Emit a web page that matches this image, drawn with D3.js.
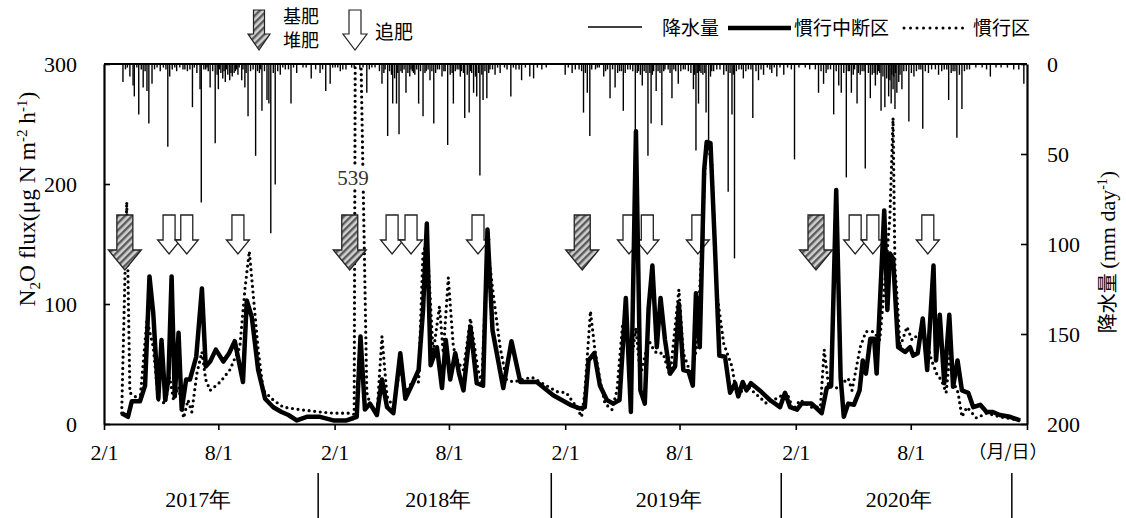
<!DOCTYPE html>
<html>
<head>
<meta charset="utf-8">
<script src="https://cdn.jsdelivr.net/npm/d3@7"></script>
<style>
  body { margin: 0; background: #fff; }
  svg { display: block; }
</style>
</head>
<body>
<div id="chart"></div>
<script>
// all x values are days counted from 2017-02-01
const rain2017 = [[30,10],[34,3],[37,2],[41,7],[46,12],[48,18],[52,2],[55,28],[59,3],[62,13],[65,4],[68,15],[71,33],[76,11],[80,3],[84,2],[89,4],[94,2],[98,3],[101,46],[104,7],[108,3],[112,2],[115,4],[120,2],[125,3],[128,3],[132,4],[136,3],[140,24],[143,2],[147,5],[152,14],[154,77],[158,3],[161,3],[163,2],[165,4],[168,13],[172,4],[176,44],[179,6],[181,14],[183,3],[185,5],[188,8],[190,4],[192,10],[194,3],[196,6],[199,9],[201,5],[203,7],[206,5],[208,4],[210,3],[212,6],[214,2],[218,9],[220,3],[223,13],[225,5],[228,29],[232,4],[236,3],[240,51],[243,4],[246,5],[248,3],[250,26],[254,4],[258,20],[261,22],[264,94],[268,5],[271,67],[275,4],[279,6],[283,2],[287,3],[292,3],[296,22],[300,2],[305,5],[315,2],[320,2],[328,8],[335,3],[342,5],[346,3],[351,15],[358,11],[362,2]];
const rain2018 = [[366,2],[370,2],[374,4],[378,3],[383,3],[392,2],[396,2],[405,3],[410,2],[416,16],[420,3],[424,2],[429,2],[436,4],[440,11],[443,5],[445,3],[449,40],[452,4],[455,6],[457,22],[460,8],[463,22],[465,5],[467,39],[470,4],[472,5],[475,3],[478,16],[481,5],[484,7],[486,3],[488,4],[490,5],[492,6],[495,3],[498,22],[501,4],[505,29],[508,5],[510,4],[513,3],[516,9],[519,4],[522,33],[525,5],[528,3],[531,3],[535,7],[538,4],[540,4],[544,45],[548,6],[551,5],[553,22],[556,4],[559,3],[562,3],[564,7],[566,4],[569,5],[571,30],[575,6],[578,27],[580,4],[582,5],[585,16],[588,7],[590,18],[593,5],[595,62],[598,6],[600,20],[603,4],[606,19],[609,5],[611,3],[615,3],[619,6],[623,2],[627,5],[634,2],[638,3],[644,18],[648,2],[652,3],[657,3],[661,9],[667,2],[674,7],[680,8],[686,2],[693,3],[700,2]];
const rain2019 = [[730,6],[735,2],[741,5],[746,3],[752,3],[756,4],[759,27],[762,5],[765,16],[769,40],[772,3],[778,3],[781,2],[784,2],[791,7],[794,4],[797,3],[801,19],[805,3],[809,13],[813,5],[816,4],[819,4],[822,26],[825,5],[829,3],[833,3],[837,4],[841,40],[844,5],[846,4],[849,6],[852,12],[855,4],[858,5],[861,51],[864,5],[866,33],[868,6],[870,4],[874,15],[877,4],[880,5],[883,34],[886,4],[888,3],[893,3],[896,5],[899,19],[902,3],[905,4],[909,11],[913,4],[917,3],[920,3],[925,4],[929,5],[933,14],[935,6],[937,48],[939,5],[941,22],[943,4],[945,5],[948,6],[951,5],[953,27],[957,43],[960,7],[962,4],[965,4],[970,3],[975,3],[981,6],[985,4],[988,71],[991,5],[994,28],[996,6],[998,108],[1001,4],[1005,3],[1009,3],[1012,8],[1016,4],[1020,3],[1024,3],[1027,30],[1032,4],[1036,9],[1040,3],[1044,6],[1050,2],[1054,3],[1057,5],[1061,2],[1065,7],[1070,2],[1076,6],[1082,2],[1088,3],[1093,53]];
const rain2020 = [[1100,2],[1110,2],[1117,3],[1126,3],[1131,16],[1135,4],[1139,11],[1143,5],[1146,3],[1150,3],[1155,28],[1159,4],[1163,12],[1167,16],[1171,5],[1175,63],[1178,4],[1180,4],[1183,16],[1186,6],[1188,3],[1192,22],[1194,5],[1197,6],[1200,4],[1203,4],[1205,58],[1210,5],[1213,19],[1216,6],[1219,5],[1221,12],[1224,6],[1226,4],[1228,5],[1230,26],[1233,7],[1236,24],[1239,8],[1242,18],[1244,9],[1246,22],[1247,6],[1249,14],[1250,7],[1252,25],[1253,5],[1255,16],[1258,10],[1260,6],[1263,14],[1266,4],[1270,4],[1274,32],[1278,5],[1282,7],[1286,4],[1290,3],[1293,3],[1296,36],[1300,4],[1305,5],[1310,3],[1316,3],[1321,6],[1326,4],[1330,3],[1334,3],[1337,20],[1341,5],[1344,4],[1347,4],[1350,41],[1354,6],[1358,25],[1362,4],[1366,3],[1370,3],[1380,2],[1390,2],[1397,3],[1403,7],[1412,2],[1420,2],[1430,2],[1440,3],[1448,3],[1456,11]];

// 慣行中断区
const fluxCut = [[28,9],[38,6],[44,19],[57,19],[65,32],[72,123],[78,92],[86,21],[91,70],[97,20],[102,38],[107,123],[112,23],[118,76],[123,12],[130,37],[136,37],[146,56],[155,113],[161,48],[168,52],[177,62],[189,52],[198,59],[207,69],[220,35],[226,103],[234,89],[244,45],[255,21],[268,14],[281,10],[292,7.5],[305,3],[321,6],[342,6],[363,3],[384,3],[395,5],
  [400,6],[406,73],[413,12],[421,17],[432,7.5],[440,37],[448,14],[458,9],[469,59],[477,21],[487,32],[498,45],[505,95],[511,167],[517,49],[527,64],[535,30],[541,70],[548,37],[556,59],[562,42],[569,28],[580,81],[590,34],[600,32],[607,162],[615,78],[632,30],[645,69],[659,35],[685,35],[711,24],[738,16],[753,13],
  [761,14],[767,53],[776,59],[785,32],[796,20],[806,17],[816,20],[826,105],[834,10],[842,244],[849,28],[856,17],[862,96],[868,132],[875,64],[881,105],[888,70],[896,42],[904,48],[910,100],[917,45],[925,44],[932,32],[937,109],[943,64],[950,212],[954,235],[960,234],[967,148],[974,57],[983,56],[991,26],[999,34],[1004,23],[1011,35],[1017,28],[1024,34],[1038,28],[1054,20],[1070,14],[1078,26],[1086,14],[1097,12],
  [1104,17],[1120,17],[1136,9],[1144,30],[1151,32],[1159,195],[1166,39],[1171,6],[1178,17],[1187,16],[1196,28],[1201,53],[1206,42],[1213,71],[1219,71],[1223,42],[1235,178],[1240,95],[1244,142],[1249,138],[1257,64],[1268,60],[1276,64],[1281,57],[1288,59],[1296,88],[1303,45],[1313,132],[1317,53],[1323,91],[1330,34],[1338,91],[1344,31],[1351,53],[1358,28],[1368,26],[1376,14],[1387,16],[1397,10],[1407,10],[1418,7.5],[1434,6],[1450,3]];

// 慣行区
const fluxConv = [[28,9],[36,185],[41,26],[57,20],[68,87],[78,64],[86,20],[97,17],[104,39],[110,20],[118,31],[126,5],[133,20],[139,10],[147,42],[155,60],[161,37],[168,28],[184,35],[199,45],[215,64],[223,112],[230,144],[236,109],[244,62],[252,28],[268,20],[284,14],[310,12],[342,10],[363,9],[389,9],
  [396,8],[399,539],[416,26],[421,17],[432,8],[440,73],[448,23],[458,14],[469,48],[477,26],[490,37],[498,35],[505,145],[512,148],[521,59],[531,98],[537,59],[545,122],[553,64],[561,51],[569,45],[580,88],[592,45],[598,35],[607,150],[616,109],[627,64],[637,37],[648,35],[677,39],[717,27],[732,26],[748,14],
  [756,6],[761,26],[770,94],[777,62],[785,37],[793,17],[804,12],[812,28],[821,84],[827,73],[835,53],[842,80],[849,40],[862,70],[870,62],[875,59],[885,59],[896,40],[910,112],[917,59],[930,40],[938,64],[946,142],[953,235],[962,220],[970,109],[981,67],[994,48],[1002,23],[1017,32],[1049,17],[1081,26],[1091,12],
  [1102,20],[1120,14],[1134,14],[1140,62],[1147,31],[1162,30],[1171,35],[1178,38],[1184,28],[1197,64],[1206,77],[1218,77],[1228,70],[1238,131],[1244,173],[1249,255],[1252,130],[1255,109],[1260,64],[1271,81],[1279,70],[1292,76],[1303,67],[1310,53],[1318,42],[1326,36],[1333,26],[1339,59],[1347,32],[1352,26],[1358,6],[1366,14],[1381,5],[1397,9],[1418,6],[1450,3]];

const basalDays = [33, 389, 757, 1127];          // 基肥・堆肥
const topDressDays = [103, 131, 212, 456, 486, 592, 831, 860, 940, 1189, 1217, 1304]; // 追肥

const tickDates = ["2017-02-01","2017-08-01","2018-02-01","2018-08-01","2019-02-01","2019-08-01","2020-02-01","2020-08-01","2021-02-01"];
const tickLabels = ["2/1","8/1","2/1","8/1","2/1","8/1","2/1","8/1",""];
const years = ["2017年","2018年","2019年","2020年"];
const yearMidDays = [149, 529, 894, 1258];
const yearBreakDays = [339, 708, 1072, 1437];
const fluxTicks = [0, 100, 200, 300];
const rainTicks = [0, 50, 100, 150, 200];

const W = 1126, H = 518;
const serif = "'Liberation Serif', 'Times New Roman', serif";
const cjk = "'Noto Sans CJK JP', sans-serif";

const t0 = new Date(Date.UTC(2017, 1, 1));
const day = d => d3.utcDay.offset(t0, d);
const parse = d3.utcParse("%Y-%m-%d");

const x = d3.scaleUtc().domain([t0, parse("2021-02-01")]).range([104, 1027]);
const y = d3.scaleLinear().domain([0, 300]).range([424, 64]);
const yr = d3.scaleLinear().domain([0, 200]).range([64, 424]);

const svg = d3.select("#chart").append("svg")
  .attr("width", W).attr("height", H)
  .style("font-family", serif);

const defs = svg.append("defs");
const pat = defs.append("pattern")
  .attr("id", "hatch").attr("patternUnits", "userSpaceOnUse")
  .attr("width", 5).attr("height", 5)
  .attr("patternTransform", "rotate(45)");
pat.append("rect").attr("width", 5).attr("height", 5).attr("fill", "#d0d0d0");
pat.append("rect").attr("width", 2.4).attr("height", 5).attr("fill", "#5a5a5a");

defs.append("clipPath").attr("id", "plot")
  .append("rect").attr("x", 104).attr("y", 64).attr("width", 923).attr("height", 360);

// arrows
function arrowPath(cx, top, sw, hw, sh, hh) {
  return `M${cx - sw},${top}H${cx + sw}V${top + sh}H${cx + hw}L${cx},${top + sh + hh}L${cx - hw},${top + sh}H${cx - sw}Z`;
}

// rainfall bars hanging from top
const rain = [].concat(rain2017, rain2018, rain2019, rain2020);
svg.append("g").attr("clip-path", "url(#plot)")
  .selectAll("line").data(rain).join("line")
  .attr("x1", d => x(day(d[0]))).attr("x2", d => x(day(d[0])))
  .attr("y1", yr(0)).attr("y2", d => yr(d[1]))
  .attr("stroke", "#000").attr("stroke-width", 1.4);

const line = d3.line().x(d => x(day(d[0]))).y(d => y(d[1]));
const lines = svg.append("g").attr("clip-path", "url(#plot)");
lines.append("path").datum(fluxConv).attr("d", line)
  .attr("fill", "none").attr("stroke", "#000").attr("stroke-width", 3.2)
  .attr("stroke-linecap", "round").attr("stroke-dasharray", "0 5.6");

svg.append("g").selectAll("path").data(basalDays).join("path")
  .attr("d", d => arrowPath(x(day(d)), 215, 8, 16.5, 35, 20))
  .attr("fill", "url(#hatch)").attr("stroke", "#222").attr("stroke-width", 1.3);
svg.append("g").selectAll("path").data(topDressDays).join("path")
  .attr("d", d => arrowPath(x(day(d)), 215, 6, 11.5, 25, 14))
  .attr("fill", "#fff").attr("stroke", "#222").attr("stroke-width", 1.3);

svg.append("g").attr("clip-path", "url(#plot)")
  .append("path").datum(fluxCut).attr("d", line)
  .attr("fill", "none").attr("stroke", "#000").attr("stroke-width", 4.5)
  .attr("stroke-linejoin", "round");

// 539 label for the off-scale peak
const peak = fluxConv.find(d => d[1] > 300);
const lbl = svg.append("g").attr("transform", `translate(${x(day(peak[0])) - 3},178)`);
lbl.append("rect").attr("x", -18).attr("y", -11).attr("width", 36).attr("height", 22).attr("fill", "#fff");
lbl.append("text").text(peak[1]).attr("text-anchor", "middle").attr("dy", "0.35em")
  .attr("font-size", 21).attr("fill", "#333");

// axes
const axL = svg.append("g").attr("transform", "translate(104,0)")
  .call(d3.axisLeft(y).tickValues(fluxTicks).tickSize(-6).tickSizeOuter(0).tickPadding(27));
const axR = svg.append("g").attr("transform", "translate(1027,0)")
  .call(d3.axisRight(yr).tickValues(rainTicks).tickSize(-6).tickSizeOuter(0).tickPadding(20));
const axB = svg.append("g").attr("transform", "translate(0,424)")
  .call(d3.axisBottom(x).tickValues(tickDates.map(parse)).tickFormat((d, i) => tickLabels[i])
    .tickSize(6).tickSizeOuter(0).tickPadding(14));
svg.append("line").attr("x1", 104).attr("x2", 1027).attr("y1", 64).attr("y2", 64)
  .attr("stroke", "#000").attr("stroke-width", 2);
[axL, axR, axB].forEach(g => {
  g.select(".domain").attr("stroke-width", 2.2);
  g.selectAll(".tick line").attr("stroke-width", 1.6);
  g.selectAll("text").attr("font-size", 22).attr("font-family", serif).attr("fill", "#000");
});

svg.append("text").attr("x", 1008).attr("y", 452).attr("dy", "0.35em")
  .attr("text-anchor", "middle").attr("font-family", cjk).attr("font-size", 18)
  .text("（月/日）");

// year row
svg.append("g").selectAll("line").data(yearBreakDays).join("line")
  .attr("x1", d => x(day(d))).attr("x2", d => x(day(d)))
  .attr("y1", 473).attr("y2", 518).attr("stroke", "#000").attr("stroke-width", 1.5);
svg.append("g").selectAll("text").data(years).join("text")
  .attr("x", (d, i) => x(day(yearMidDays[i]))).attr("y", 499).attr("dy", "0.35em")
  .attr("text-anchor", "middle").attr("font-size", 22)
  .text(d => d);

// axis titles
const yl = svg.append("text").attr("transform", "translate(27,199) rotate(-90)")
  .attr("text-anchor", "middle").attr("dy", "0.35em").attr("font-size", 23.5);
yl.append("tspan").text("N");
yl.append("tspan").attr("dy", 5).attr("font-size", 15).text("2");
yl.append("tspan").attr("dy", -5).text("O flux(μg N m");
yl.append("tspan").attr("dy", -8).attr("font-size", 15).text("-2");
yl.append("tspan").attr("dy", 8).text(" h");
yl.append("tspan").attr("dy", -8).attr("font-size", 15).text("-1");
yl.append("tspan").attr("dy", 8).text(")");

const yr2 = svg.append("text").attr("transform", "translate(1107,252) rotate(-90)")
  .attr("text-anchor", "middle").attr("dy", "0.35em").attr("font-size", 22);
yr2.append("tspan").attr("font-family", cjk).attr("font-size", 20).text("降水量 ");
yr2.append("tspan").text("(mm day");
yr2.append("tspan").attr("dy", -8).attr("font-size", 14).text("-1");
yr2.append("tspan").attr("dy", 8).text(")");

// legend
const lg = svg.append("g").attr("font-family", cjk).attr("font-size", 18);
lg.append("path").attr("d", arrowPath(259, 10, 5.5, 11, 24, 16))
  .attr("fill", "url(#hatch)").attr("stroke", "#222").attr("stroke-width", 1.2);
lg.append("text").attr("x", 283).attr("y", 17).attr("dy", "0.35em").text("基肥");
lg.append("text").attr("x", 283).attr("y", 41).attr("dy", "0.35em").text("堆肥");
lg.append("path").attr("d", arrowPath(355, 10, 6, 12, 24, 16))
  .attr("fill", "#fff").attr("stroke", "#222").attr("stroke-width", 1.2);
lg.append("text").attr("x", 375).attr("y", 32).attr("dy", "0.35em").attr("font-size", 19).text("追肥");

lg.append("line").attr("x1", 588).attr("x2", 642).attr("y1", 27).attr("y2", 27)
  .attr("stroke", "#000").attr("stroke-width", 1.3);
lg.append("text").attr("x", 662).attr("y", 28).attr("dy", "0.35em").attr("font-size", 19).text("降水量");
lg.append("line").attr("x1", 728).attr("x2", 791).attr("y1", 28).attr("y2", 28)
  .attr("stroke", "#000").attr("stroke-width", 4.5);
lg.append("text").attr("x", 794).attr("y", 28).attr("dy", "0.35em").attr("font-size", 19).text("慣行中断区");
lg.append("line").attr("x1", 904).attr("x2", 965).attr("y1", 28).attr("y2", 28)
  .attr("stroke", "#000").attr("stroke-width", 3).attr("stroke-linecap", "round")
  .attr("stroke-dasharray", "0 6.5");
lg.append("text").attr("x", 973).attr("y", 28).attr("dy", "0.35em").attr("font-size", 19).text("慣行区");
</script>
</body>
</html>
